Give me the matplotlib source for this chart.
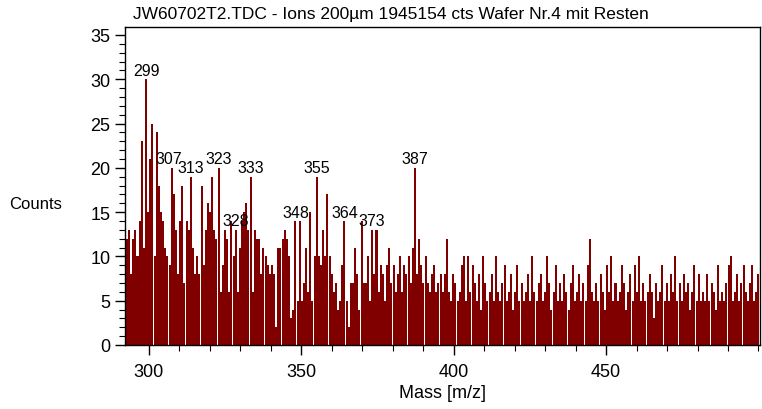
import numpy as np
import matplotlib.pyplot as plt
from matplotlib.ticker import MultipleLocator

# TDC channels, 0.7 m/z wide, first centre at 292.8
first_mass = 292.8
bin_width = 0.7

# counts per channel, ten channels per row
counts = [
    12, 13, 8, 12, 13, 10, 14, 23, 11, 30,
    15, 21, 25, 10, 24, 18, 15, 14, 11, 10,
    9, 20, 17, 13, 8, 14, 18, 7, 14, 13,
    19, 11, 8, 10, 8, 18, 9, 13, 16, 15,
    19, 13, 12, 20, 6, 9, 13, 12, 6, 14,
    10, 13, 6, 11, 14, 15, 16, 13, 19, 6,
    13, 12, 12, 8, 11, 10, 9, 8, 9, 8,
    2, 11, 11, 12, 13, 12, 10, 3, 4, 14,
    5, 14, 5, 7, 11, 6, 15, 5, 10, 19,
    10, 9, 13, 10, 17, 10, 8, 6, 7, 4,
    5, 9, 14, 5, 2, 7, 7, 11, 8, 4,
    14, 7, 7, 10, 5, 13, 8, 13, 6, 9,
    8, 5, 9, 11, 7, 9, 6, 8, 10, 6,
    9, 8, 10, 7, 11, 20, 8, 12, 9, 7,
    10, 7, 6, 8, 9, 6, 7, 8, 6, 8,
    12, 6, 5, 8, 7, 5, 6, 9, 10, 5,
    10, 6, 9, 7, 5, 8, 4, 10, 7, 5,
    6, 8, 5, 10, 6, 5, 7, 9, 5, 6,
    8, 4, 6, 9, 5, 7, 5, 6, 8, 5,
    10, 6, 5, 7, 8, 5, 6, 10, 7, 4,
    6, 9, 5, 7, 5, 8, 6, 4, 7, 9,
    5, 6, 8, 5, 7, 5, 9, 12, 6, 5,
    7, 5, 8, 6, 4, 9, 6, 10, 5, 7,
    5, 6, 9, 7, 4, 6, 8, 5, 9, 6,
    10, 5, 7, 5, 6, 8, 6, 3, 7, 5,
    6, 9, 5, 7, 5, 8, 6, 10, 5, 7,
    5, 8, 6, 7, 4, 6, 9, 5, 8, 5,
    6, 5, 8, 5, 7, 6, 4, 9, 5, 6,
    5, 7, 9, 10, 5, 6, 8, 5, 7, 9,
    6, 5, 7, 9, 5, 6, 8,
]

# labelled peaks (nominal mass)
peak_mass = [299, 307, 313, 323, 328, 333, 348, 355, 364, 373, 387]

title = "JW60702T2.TDC - Ions 200\u00b5m 1945154 cts Wafer Nr.4 mit Resten"

counts = np.array(counts)
mass = first_mass + bin_width * np.arange(len(counts))

plt.rcParams['font.family'] = ['Liberation Sans', 'DejaVu Sans']

fig = plt.figure(figsize=(7.62, 4.10), dpi=100)
ax = fig.add_axes([125 / 762, 1 - 346 / 410, 635 / 762, 318 / 410])

ax.bar(mass, counts, width=0.66, color='#800000', linewidth=0)

# put each label over the highest channel just above its nominal mass
for m in peak_mass:
    near = (mass > m - 0.35) & (mass < m + 1.0)
    i = np.flatnonzero(near)[np.argmax(counts[near])]
    dx = -2 if m == 307 else 0   # 307 and 313 sit close together
    ax.annotate(str(m), (mass[i], counts[i]), xytext=(dx, 1), textcoords='offset points',
                ha='center', va='bottom', fontsize=11.5)

ax.set_xlim(292.2, 500.5)
ax.set_ylim(0, 35.9)
ax.set_xticks([300, 350, 400, 450])
ax.xaxis.set_minor_locator(MultipleLocator(10))
ax.yaxis.set_major_locator(MultipleLocator(5))
ax.yaxis.set_minor_locator(MultipleLocator(1))
ax.tick_params(which='major', length=7, width=1, labelsize=13, direction='out')
ax.tick_params(axis='x', which='major', pad=6)
ax.tick_params(which='minor', length=4, width=0.8, direction='out')
for s in ax.spines.values():
    s.set_linewidth(1)

ax.set_xlabel("Mass [m/z]", fontsize=13, labelpad=3)
fig.text(36 / 762, 1 - 205 / 410, "Counts", fontsize=12, ha='center', va='center')
fig.text(391 / 762, 1 - 14 / 410, title, fontsize=12.5, ha='center', va='center')

fig.savefig("out.png", dpi=100)
